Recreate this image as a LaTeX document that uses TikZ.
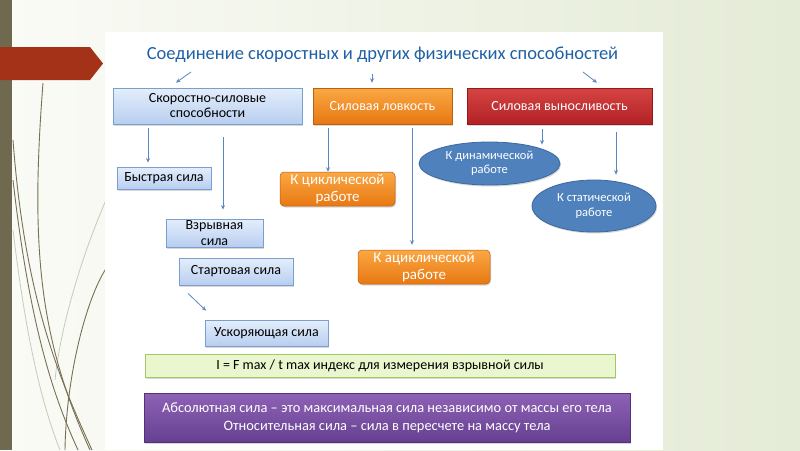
\documentclass[tikz,border=0pt]{standalone}
\usepackage{fontspec}
\setmainfont{Carlito}
\usepackage{tikz}
\usetikzlibrary{shapes.geometric, arrows.meta, shadows, calc}
\definecolor{slidelight}{RGB}{250,251,246}
\definecolor{slidegreen}{RGB}{228,235,214}
\definecolor{stripebrown}{RGB}{111,106,79}
\definecolor{bannerred}{RGB}{163,50,24}
\definecolor{curvebrown}{RGB}{120,112,84}
\definecolor{curvegrey}{RGB}{200,202,188}
\definecolor{titleblue}{RGB}{31,96,166}
\definecolor{arrowblue}{RGB}{90,134,196}
\definecolor{boxbluetop}{RGB}{228,238,251}
\definecolor{boxbluebot}{RGB}{184,206,240}
\definecolor{boxblueline}{RGB}{122,158,208}
\definecolor{orangetop}{RGB}{250,168,68}
\definecolor{orangebot}{RGB}{232,120,18}
\definecolor{redtop}{RGB}{214,68,66}
\definecolor{redbot}{RGB}{178,34,38}
\definecolor{ellblue}{RGB}{79,129,189}
\definecolor{ellline}{RGB}{60,104,160}
\definecolor{greenfill}{RGB}{234,246,206}
\definecolor{greenline}{RGB}{160,200,100}
\definecolor{purpletop}{RGB}{142,98,182}
\definecolor{purplebot}{RGB}{102,64,144}

\begin{document}
\begin{tikzpicture}[x=1pt, y=-1pt,
    every node/.style={font=\fontsize{14}{15}\selectfont, align=center, inner sep=0pt},
    boxshadow/.style={drop shadow={shadow xshift=1pt, shadow yshift=-1.5pt, opacity=0.3}},
    bluebox/.style={draw=boxblueline, line width=0.8pt, top color=boxbluetop, bottom color=boxbluebot, boxshadow},
    orangebox/.style={draw=orangebot!80!black, line width=0.5pt, rounded corners=4pt, top color=orangetop, bottom color=orangebot, text=white, boxshadow},
    redbox/.style={draw=redbot!80!black, line width=0.5pt, top color=redtop, bottom color=redbot, text=white, boxshadow},
    workell/.style={ellipse, draw=ellline, line width=0.8pt, fill=ellblue, text=white, font=\fontsize{12.5}{14.5}\selectfont, boxshadow},
    arr/.style={draw=arrowblue, line width=0.8pt, -{Stealth[length=4.5pt, width=4pt]}},
    curve/.style={draw=curvebrown, line width=0.9pt}
  ]
  \useasboundingbox (0,0) rectangle (800,450);
  % slide background
  \shade[left color=slidelight, right color=slidegreen] (0,0) rectangle (800,450);
  \draw[curvegrey, line width=0.8pt] (13,230) .. controls (25,330) and (40,400) .. (60,450);
  \draw[curvegrey, line width=0.8pt] (106,200) .. controls (80,260) and (60,330) .. (55,380);
  \draw[curve] (43,83) .. controls (30,250) and (40,340) .. (90,450);
  \draw[curve] (13,140) .. controls (25,300) and (60,380) .. (92,450);
  \draw[curve] (13,180) .. controls (30,330) and (55,400) .. (78,450);
  \draw[curve] (107,267) .. controls (85,300) and (66,380) .. (65,450);
  \fill[stripebrown] (0,0) rectangle (12,450);
  \fill[bannerred] (0,47) -- (90,47) -- (103,63.5) -- (90,80) -- (0,80) -- cycle;
  \fill[white] (105,32) rectangle (663,450);

  % title and first row
  \node[text=titleblue, font=\fontsize{18.5}{21}\selectfont] (title) at (382.5,55) {Соединение скоростных и других физических способностей};
  \node[bluebox, minimum width=189pt, minimum height=36pt] (speed) at (207.5,106) {Скоростно-силовые\\способности};
  \node[orangebox, rounded corners=0pt, minimum width=139pt, minimum height=36pt] (agility) at (382.5,106) {Силовая ловкость};
  \node[redbox, minimum width=185pt, minimum height=36pt] (endur) at (559.5,106) {Силовая выносливость};

  % speed-strength branch
  \node[bluebox, minimum width=94pt, minimum height=22pt] (quick) at (164,178) {Быстрая сила};
  \node[bluebox, minimum width=97pt, minimum height=28pt, font=\fontsize{14}{15.5}\selectfont] (blast) at (214.5,233) {Взрывная\\сила};
  \node[bluebox, minimum width=114pt, minimum height=27pt] (start) at (236,271.5) {Стартовая сила};
  \node[bluebox, minimum width=123pt, minimum height=26pt] (accel) at (266.5,333) {Ускоряющая сила};

  % agility branch
  \node[orangebox, minimum width=115pt, minimum height=34pt, font=\fontsize{15}{17}\selectfont] (cyclic) at (337.5,189) {К циклической\\работе};
  \node[orangebox, minimum width=132pt, minimum height=34pt, font=\fontsize{15}{17}\selectfont] (acyclic) at (424,267) {К ациклической\\работе};

  % endurance branch
  \node[workell, minimum width=141pt, minimum height=43pt] (dynamic) at (489.5,163.5) {К динамической\\работе};
  \node[workell, minimum width=124pt, minimum height=52pt] (static) at (594,206) {К статической\\работе};

  % bottom notes
  \node[draw=greenline, line width=0.8pt, fill=greenfill, boxshadow, minimum width=470pt, minimum height=23pt] (index) at (380,365.5) {I = F max / t max индекс для измерения взрывной силы};
  \node[draw=purplebot!80!black, line width=0.5pt, top color=purpletop, bottom color=purplebot, text=white, boxshadow, minimum width=486pt, minimum height=49pt, font=\fontsize{14.4}{18}\selectfont] (absolute) at (387,417.5) {Абсолютная сила – это максимальная сила независимо от массы его тела\\Относительная сила – сила в пересчете на массу тела};

  % connectors
  \draw[arr] ($(title.south)+(-191.5,9)$) -- ($(speed.north)+(-31.5,-5)$);
  \draw[arr] ($(title.south)+(-10.5,11)$) -- ($(agility.north)+(-10.5,-5)$);
  \draw[arr] ($(title.south)+(200.5,9)$) -- ($(endur.north)+(37.5,-5)$);
  \draw[arr] ($(speed.south)+(-59.5,4)$) -- ($(quick.north)+(-16,-4)$);
  \draw[arr] ($(speed.south)+(15.5,13)$) -- ($(blast.north)+(8.5,-9)$);
  \draw[arr] ($(agility.south)+(-54.5,4)$) -- ($(cyclic.north)+(-9.5,0)$);
  \draw[arr] ($(agility.south)+(29.5,4)$) -- ($(acyclic.north)+(-12,-5)$);
  \draw[arr] ($(endur.south)+(-17.5,5)$) -- ($(dynamic.north)+(52.5,3)$);
  \draw[arr] ($(endur.south)+(56.5,8)$) -- ($(static.north)+(22,-5)$);
  \draw[arr] ($(start.south)+(-48,8)$) -- ($(accel.north)+(-60.5,-9)$);
\end{tikzpicture}
\end{document}
